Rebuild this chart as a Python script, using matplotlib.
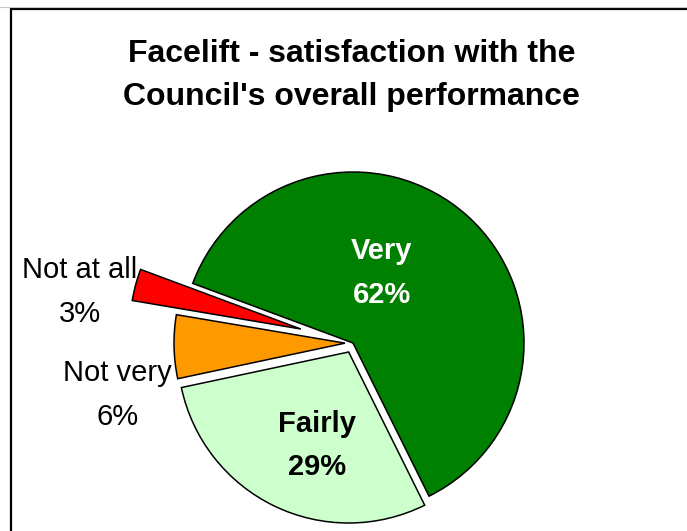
import matplotlib.pyplot as plt
from matplotlib.patches import Rectangle

# Daten
kategorien = ["Very", "Not at all", "Not very", "Fairly"]
anteile = [62, 3, 6, 29]
farben = ["#008000", "#FF0000", "#FF9900", "#CCFFCC"]
explode = [0, 54, 8, 10]          # in Pixel (Radius = 171)
text_farben = ["white", "black", "black", "black"]
text_fett = ["bold", "normal", "normal", "bold"]
titel = "Facelift - satisfaction with the\nCouncil's overall performance"

# Label-Positionen (Pixel im Bild, y von oben)
label_pos = [(382, 273), (79.5, 292), (117.5, 395), (317.5, 445.5)]

W, H = 687, 531
fig = plt.figure(figsize=(W / 100, H / 100), dpi=100)
ax = fig.add_axes([0, 0, 1, 1])

# Rahmen
ax.add_patch(Rectangle((10.5, -20), W + 40, H - 8.5 + 20, fill=False,
                       edgecolor="black", linewidth=1.6, clip_on=False))
ax.plot([0, W], [H - 6.5, H - 6.5], color="#c8c8c8", linewidth=0.8)

ax.pie(anteile, colors=farben, explode=explode, startangle=-63.6,
       counterclock=True, radius=171, center=(353, H - 343),
       wedgeprops=dict(edgecolor="black", linewidth=1.1), frame=True)
ax.set_xlim(0, W)
ax.set_ylim(0, H)
ax.set_aspect("equal")
ax.axis("off")

for name, wert, (px, py), fc, fw in zip(kategorien, anteile, label_pos, text_farben, text_fett):
    ax.text(px, H - py, f"{name}\n{wert}%", ha="center", va="center",
            fontsize=21, fontweight=fw, color=fc, family="Liberation Sans",
            linespacing=1.72)

ax.text(351.5, H - 75.5, titel, ha="center", va="center", fontsize=23,
        fontweight="bold", family="Liberation Sans", linespacing=1.58)

fig.savefig("out.png", dpi=100)
